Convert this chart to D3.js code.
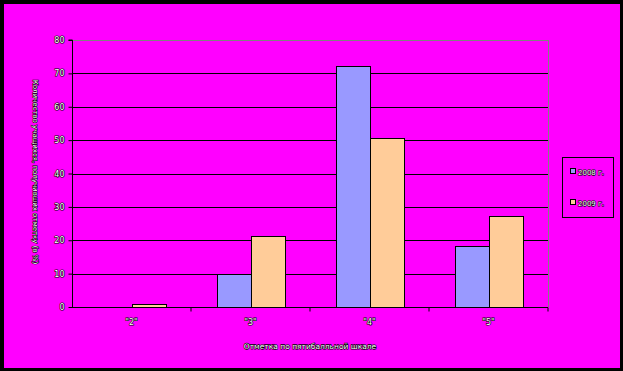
<!DOCTYPE html>
<html>
<head>
<meta charset="utf-8">
<script src="https://cdn.jsdelivr.net/npm/d3@7"></script>
<style>
  body { margin: 0; background: #000; }
  svg text { font-family: "DejaVu Sans", sans-serif; }
</style>
</head>
<body>
<script>
// chart data
var categories = ['"2"', '"3"', '"4"', '"5"'];
var seriesNames = ["2008 г.", "2009 г."];
var values2008 = [0, 10, 72.2, 18.2];
var values2009 = [1, 21.3, 50.6, 27.3];
var yTicks = [0, 10, 20, 30, 40, 50, 60, 70, 80];
var colors = ["#9999ff", "#ffcc99"];

var width = 623, height = 371;
var margin = {top: 40, right: 75, bottom: 64, left: 72};

var svg = d3.select("body").append("svg")
    .attr("width", width)
    .attr("height", height);

// black frame + magenta area
svg.append("rect").attr("width", width).attr("height", height).attr("fill", "#000");
svg.append("rect").attr("x", 4).attr("y", 4).attr("width", 616).attr("height", 364).attr("fill", "#ff00ff");

var x0 = d3.scaleBand()
    .domain(categories)
    .range([margin.left, width - margin.right])
    .paddingInner(0).paddingOuter(0);
var x1 = d3.scaleBand()
    .domain(seriesNames)
    .range([0, x0.bandwidth()])
    .paddingInner(0).paddingOuter(0.75);

var y = d3.scaleLinear().domain([0, 80]).range([height - margin.bottom, margin.top]);

var g = svg.append("g");

// gridlines
g.selectAll("line.grid")
    .data(yTicks.filter(function(d){ return d > 0; }))
  .enter().append("line")
    .attr("class", "grid")
    .attr("x1", margin.left).attr("x2", width - margin.right)
    .attr("y1", function(d){ return Math.round(y(d)) + 0.5; })
    .attr("y2", function(d){ return Math.round(y(d)) + 0.5; })
    .attr("stroke", function(d){ return d === 80 ? "#808080" : "#000"; })
    .attr("stroke-width", 1);
// right edge of plot area
g.append("line")
    .attr("x1", width - margin.right + 0.5).attr("x2", width - margin.right + 0.5)
    .attr("y1", y(80)).attr("y2", y(0))
    .attr("stroke", "#808080");

var rows = categories.map(function(c, i){ return {cat: c, vals: [values2008[i], values2009[i]]}; });

var groups = g.selectAll("g.cat").data(rows).enter().append("g")
    .attr("transform", function(d){ return "translate(" + x0(d.cat) + ",0)"; });

groups.selectAll("rect")
    .data(function(d){ return d.vals.map(function(v, j){ return {s: seriesNames[j], v: v, j: j}; }); })
  .enter().append("rect")
    .filter(function(d){ return d.v > 0; })
    .attr("x", function(d){ return Math.round(x1(d.s)) + 0.5; })
    .attr("width", function(d){ return Math.round(x1.bandwidth()); })
    .attr("y", function(d){ return Math.round(y(d.v)) + 0.5; })
    .attr("height", function(d){ return Math.round(y(0)) - Math.round(y(d.v)); })
    .attr("fill", function(d){ return colors[d.j]; })
    .attr("stroke", "#000")
    .attr("stroke-width", 1);

// y axis
var yAxis = d3.axisLeft(y).tickValues(yTicks).tickSize(4).tickPadding(4);
var ya = svg.append("g")
    .attr("transform", "translate(" + (margin.left + 0.5) + ",0)")
    .call(yAxis);
ya.select(".domain").attr("d", "M-4," + y(80) + "H0V" + y(0));

// x axis
var xa = svg.append("g")
    .attr("transform", "translate(0," + (Math.round(y(0)) + 0.5) + ")");
xa.append("line")
    .attr("x1", margin.left).attr("x2", width - margin.right)
    .attr("stroke", "#000");
xa.selectAll("line.tick")
    .data(categories.slice(1).concat(["end"]))
  .enter().append("line")
    .attr("x1", function(d){ return d === "end" ? width - margin.right : x0(d); })
    .attr("x2", function(d){ return d === "end" ? width - margin.right : x0(d); })
    .attr("y1", 0).attr("y2", 4)
    .attr("stroke", "#000");
xa.selectAll("text")
    .data(categories)
  .enter().append("text")
    .attr("x", function(d){ return x0(d) + x0.bandwidth() / 2; })
    .attr("y", 17)
    .attr("text-anchor", "middle")
    .text(function(d){ return d; });

ya.selectAll(".tick line").attr("stroke", "#000");

function styleText(sel) {
  sel.attr("fill", "#fff")
     .attr("stroke", "#000")
     .attr("stroke-width", 1.2)
     .attr("paint-order", "stroke")
     .attr("font-size", 8);
}
styleText(ya.selectAll("text"));
styleText(xa.selectAll("text"));

// axis titles
var xt = svg.append("text")
    .attr("x", (margin.left + width - margin.right) / 2)
    .attr("y", 349)
    .attr("text-anchor", "middle")
    .text("Отметка по пятибалльной шкале");
styleText(xt);
xt.attr("font-size", 7.5);

var yt = svg.append("text")
    .attr("transform", "translate(33,172) rotate(90)")
    .attr("text-anchor", "middle")
    .text("Количество учащихся, получивших отметку (в %)");
styleText(yt);
yt.attr("font-size", 7);

// legend
var legend = svg.append("g");
legend.append("rect")
    .attr("x", 562.5).attr("y", 157.5).attr("width", 51).attr("height", 60)
    .attr("fill", "none").attr("stroke", "#000");
var li = legend.selectAll("g.item").data(seriesNames).enter().append("g")
    .attr("transform", function(d, i){ return "translate(570," + (172 + i * 31) + ")"; });
li.append("rect")
    .attr("x", 0.5).attr("y", -3.5).attr("width", 5).attr("height", 5)
    .attr("fill", function(d, i){ return colors[i]; })
    .attr("stroke", "#000");
var lt = li.append("text")
    .attr("x", 8).attr("y", 2.5)
    .text(function(d){ return d; });
styleText(lt);
lt.attr("font-size", 7);
</script>
</body>
</html>
